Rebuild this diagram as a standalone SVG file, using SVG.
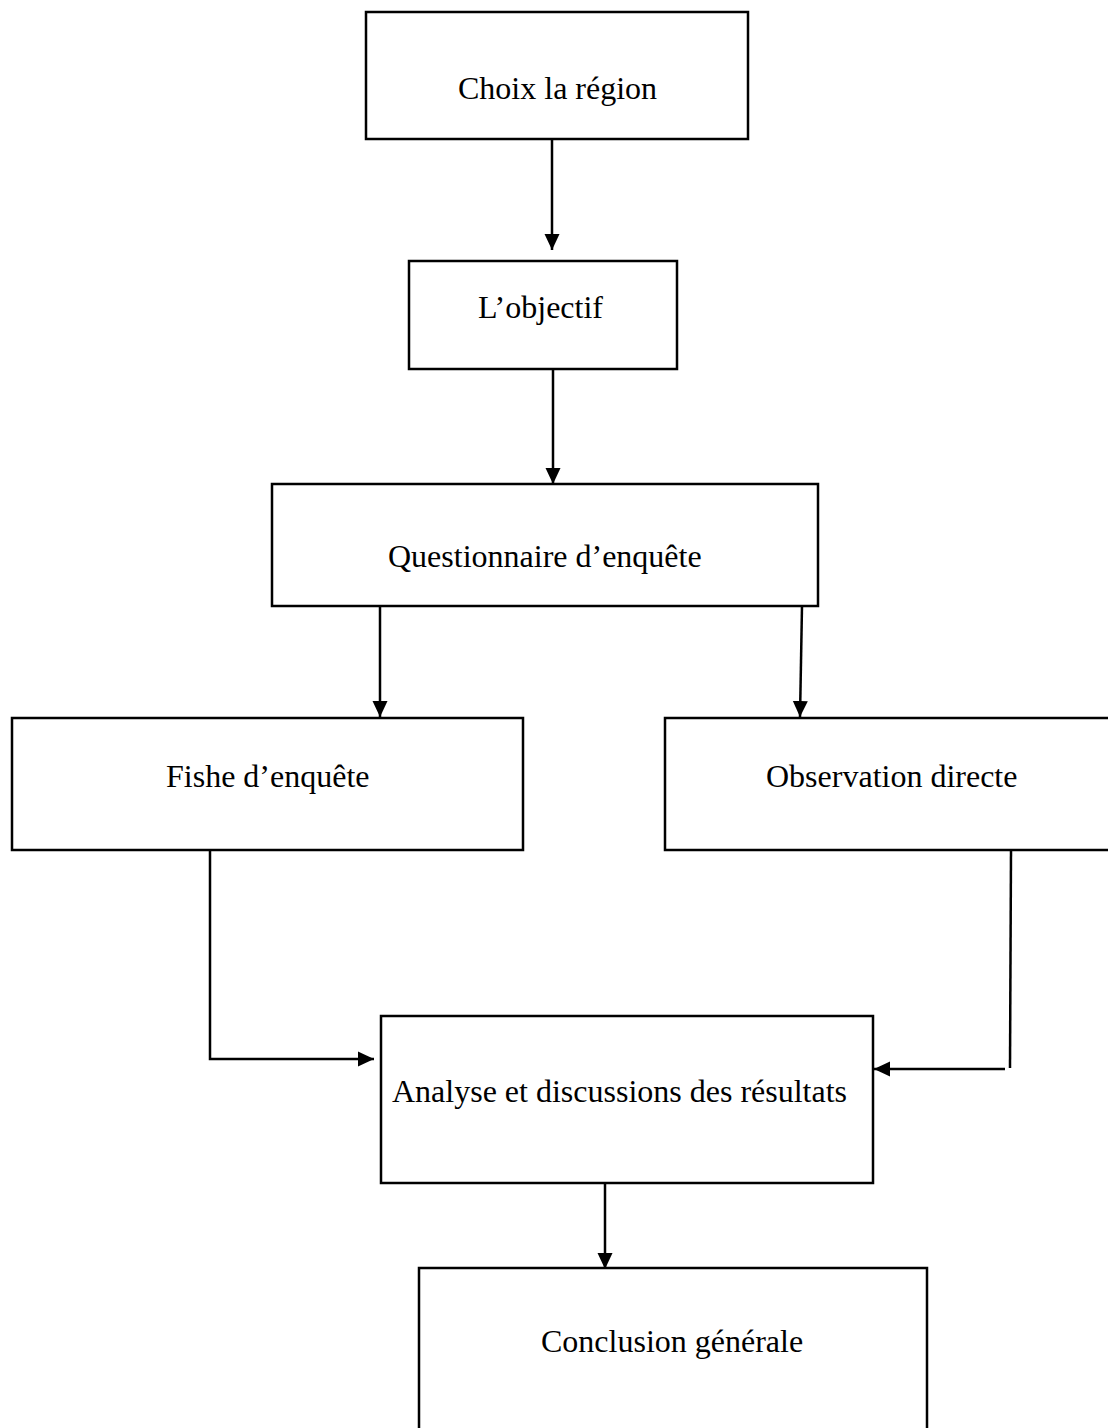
<svg xmlns="http://www.w3.org/2000/svg" width="1108" height="1428" viewBox="0 0 1108 1428">
<style>
.box{fill:#fff;stroke:#000;stroke-width:2.5}
.lbl{font-family:"Liberation Serif","Times New Roman",serif;font-size:32px;fill:#000}
.con{fill:none;stroke:#000;stroke-width:2.5}
</style>
<defs>
<marker id="ah" viewBox="0 0 16 16" refX="16" refY="8" markerWidth="16" markerHeight="16" markerUnits="userSpaceOnUse" orient="auto">
<path d="M0,0.5 L16,8 L0,15.5 Z" fill="#000"/>
</marker>
</defs>
<rect width="1108" height="1428" fill="#fff"/>
<g id="n1"><rect class="box" x="366" y="12" width="382" height="127"/><text class="lbl" x="458" y="99">Choix la région</text></g>
<g id="n2"><rect class="box" x="409" y="261" width="268" height="108"/><text class="lbl" x="478" y="318">L’objectif</text></g>
<g id="n3"><rect class="box" x="272" y="484" width="546" height="122"/><text class="lbl" x="388" y="567">Questionnaire d’enquête</text></g>
<g id="n4"><rect class="box" x="12" y="718" width="511" height="132"/><text class="lbl" x="166" y="787">Fishe d’enquête</text></g>
<g id="n5"><rect class="box" x="665" y="718" width="450" height="132"/><text class="lbl" x="766" y="787">Observation directe</text></g>
<g id="n6"><rect class="box" x="381" y="1016" width="492" height="167"/><text class="lbl" x="392" y="1102">Analyse et discussions des résultats</text></g>
<g id="n7"><rect class="box" x="419" y="1268" width="508" height="180"/><text class="lbl" x="541" y="1352">Conclusion générale</text></g>
<g id="connectors">
<line class="con" x1="552" y1="139" x2="552" y2="250" marker-end="url(#ah)"/>
<line class="con" x1="553" y1="369" x2="553" y2="484" marker-end="url(#ah)"/>
<line class="con" x1="380" y1="606" x2="380" y2="717" marker-end="url(#ah)"/>
<line class="con" x1="802" y1="606" x2="800" y2="717" marker-end="url(#ah)"/>
<polyline class="con" points="210,850 210,1059 374,1059" marker-end="url(#ah)"/>
<line class="con" x1="1011" y1="850" x2="1010" y2="1068"/>
<line class="con" x1="1005" y1="1069" x2="874" y2="1069" marker-end="url(#ah)"/>
<line class="con" x1="605" y1="1183" x2="605" y2="1269" marker-end="url(#ah)"/>
</g>
</svg>
